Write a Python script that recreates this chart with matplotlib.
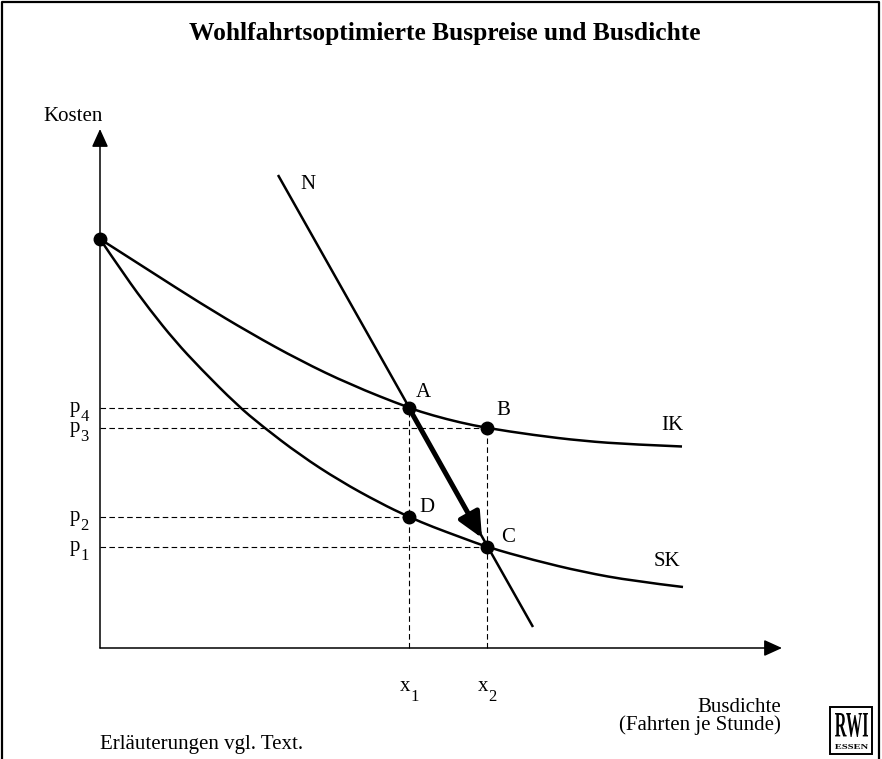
import matplotlib
matplotlib.use("Agg")
import matplotlib.pyplot as plt
from matplotlib.patches import Rectangle, PathPatch
from matplotlib.path import Path
from matplotlib.textpath import TextPath
from matplotlib.font_manager import FontProperties
from matplotlib.transforms import Affine2D

plt.rcParams["font.family"] = ["Liberation Serif", "DejaVu Serif"]

# curves (x = Busdichte, y = Kosten, arbitrary units)
ik_x = [0.0, 5.0, 10.0, 15.0, 20.0, 25.0, 30.9, 33.3, 36.0, 38.7, 43.3, 48.3, 53.3, 58.2]
ik_y = [40.9, 37.7, 34.5, 31.5, 28.75, 26.35, 24.0, 23.25, 22.55, 22.0, 21.3, 20.7, 20.35, 20.15]

sk_x = [0.0, 2.5, 5.0, 7.5, 10.0, 13.7, 16.2, 20.0, 24.0, 28.0, 30.9, 33.3, 36.0, 38.7,
        43.3, 48.3, 53.3, 58.3]
sk_y = [40.9, 37.2, 33.8, 30.7, 28.0, 24.3, 22.2, 19.3, 16.7, 14.5, 13.1, 12.1, 11.1, 10.1,
        8.8, 7.6, 6.7, 6.1]

n_x = [17.8, 43.3]
n_y = [47.3, 2.1]

# marked points
pt_names = ["A", "B", "C", "D"]
pt_x = [30.9, 38.7, 38.7, 30.9]
pt_y = [24.0, 22.0, 10.1, 13.1]
start_pt = (0.0, 40.9)

p_subs = ["4", "3", "2", "1"]
p_levels = [24.0, 22.0, 13.1, 10.1]
p_ends = [30.9, 38.7, 30.9, 38.7]

x_subs = ["1", "2"]
x_levels = [30.9, 38.7]
x_tops = [24.0, 22.0]

arrow_tip = (38.2, 11.0)
x_axis_len = 68.2
y_axis_len = 51.9


def smooth_path(xs, ys):
    # quadratic bezier pieces: read points act as control points,
    # the curve runs through the midpoints between them
    pts = list(zip(xs, ys))
    verts = [pts[0]]
    codes = [Path.MOVETO]
    for i in range(1, len(pts) - 1):
        mid = ((pts[i][0] + pts[i + 1][0]) / 2, (pts[i][1] + pts[i + 1][1]) / 2)
        if i == len(pts) - 2:
            mid = pts[-1]
        verts += [pts[i], mid]
        codes += [Path.CURVE3, Path.CURVE3]
    return Path(verts, codes)


def fitted_text(ax, s, x0, y0, w, h):
    # text squeezed into a box (x0, y0, w, h) in data units
    tp = TextPath((0, 0), s, size=1, prop=FontProperties(family="Liberation Serif",
                                                          weight="bold"))
    ext = tp.get_extents()
    tr = Affine2D().translate(-ext.x0, -ext.y0).scale(w / ext.width, h / ext.height)
    tr = tr.translate(x0, y0)
    ax.add_patch(PathPatch(tr.transform_path(tp), facecolor="black", edgecolor="none"))


def sub_label(ax, base, sub, x, y, ha, drop=2.5):
    # letter plus lowered small digit
    t = ax.text(x, y, base, ha=ha, va="baseline", fontsize=15)
    ax.annotate(sub, xy=(1, 0), xycoords=t, xytext=(0.3, -drop), textcoords="offset points",
                ha="left", va="baseline", fontsize=12)


fig = plt.figure(figsize=(8.82, 7.59), dpi=100)
ax = fig.add_axes([0, 0, 1, 1])
ax.set_xlim(-10, 78.2)
ax.set_ylim(-11.1, 64.8)
ax.axis("off")

# frame around the figure
ax.plot([-9.8, -9.8, 77.9, 77.9], [-11.1, 64.6, 64.6, -11.1], color="black", lw=1.6,
        clip_on=False)

# axes with arrow heads
axis_arrow = dict(arrowstyle="-|>,head_length=1.1,head_width=0.5", lw=1.1, color="black",
                  shrinkA=0, shrinkB=0)
ax.annotate("", xy=(x_axis_len, 0), xytext=(0, 0), arrowprops=axis_arrow)
ax.annotate("", xy=(0, y_axis_len), xytext=(0, 0), arrowprops=axis_arrow)

# dashed guides
dash = dict(color="black", lw=0.8, linestyle=(0, (5, 3)))
for lvl, end in zip(p_levels, p_ends):
    ax.plot([0, end], [lvl, lvl], **dash)
for xv, top in zip(x_levels, x_tops):
    ax.plot([xv, xv], [0, top], **dash)

# curves
for cx, cy in [(ik_x, ik_y), (sk_x, sk_y)]:
    ax.add_patch(PathPatch(smooth_path(cx, cy), fill=False, lw=1.8, edgecolor="black",
                           capstyle="butt"))
ax.plot(n_x, n_y, color="black", lw=1.8, solid_capstyle="butt")

# bold arrow from A to C
ax.annotate("", xy=arrow_tip, xytext=(pt_x[0], pt_y[0]),
            arrowprops=dict(arrowstyle="-|>,head_length=1.5,head_width=0.7", lw=3.6,
                            color="black", shrinkA=0, shrinkB=0))

ax.plot(pt_x, pt_y, "o", color="black", ms=9)
ax.plot(*start_pt, "o", color="black", ms=9)

# labels
lbl = dict(fontsize=15)
ax.text(-2.7, 53.1, "Kosten", ha="center", va="center", **lbl)
ax.text(20.8, 46.3, "N", ha="center", va="center", **lbl)
offsets = {"A": (1.4, 1.5), "B": (1.6, 1.7), "C": (2.1, 1.0), "D": (1.8, 0.9)}
for name, xv, yv in zip(pt_names, pt_x, pt_y):
    dx, dy = offsets[name]
    ax.text(xv + dx, yv + dy, name, ha="center", va="center", **lbl)
ax.text(57.2, 22.2, "IK", ha="center", va="center", **lbl)
ax.text(56.7, 8.6, "SK", ha="center", va="center", **lbl)

for sub, lvl in zip(p_subs, p_levels):
    sub_label(ax, "p", sub, -2.0, lvl - 0.45, "right")
for sub, xv in zip(x_subs, x_levels):
    sub_label(ax, "x", sub, xv + 0.1, -4.3, "right", drop=3.5)

ax.text(68.1, -5.9, "Busdichte", ha="right", va="center", **lbl)
ax.text(68.1, -7.7, "(Fahrten je Stunde)", ha="right", va="center", **lbl)
ax.text(0, -9.7, "Erläuterungen vgl. Text.", ha="left", va="center", fontsize=15)

ax.text(34.5, 61.4, "Wohlfahrtsoptimierte Buspreise und Busdichte", ha="center",
        va="center", fontsize=18.4, fontweight="bold")

# RWI logo
ax.add_patch(Rectangle((73.0, -10.6), 4.2, 4.7, fill=False, lw=1.4, edgecolor="black"))
fitted_text(ax, "RWI", 73.5, -8.9, 3.3, 2.4)
fitted_text(ax, "ESSEN", 73.5, -10.1, 3.3, 0.5)

fig.savefig("out.png", dpi=100)
